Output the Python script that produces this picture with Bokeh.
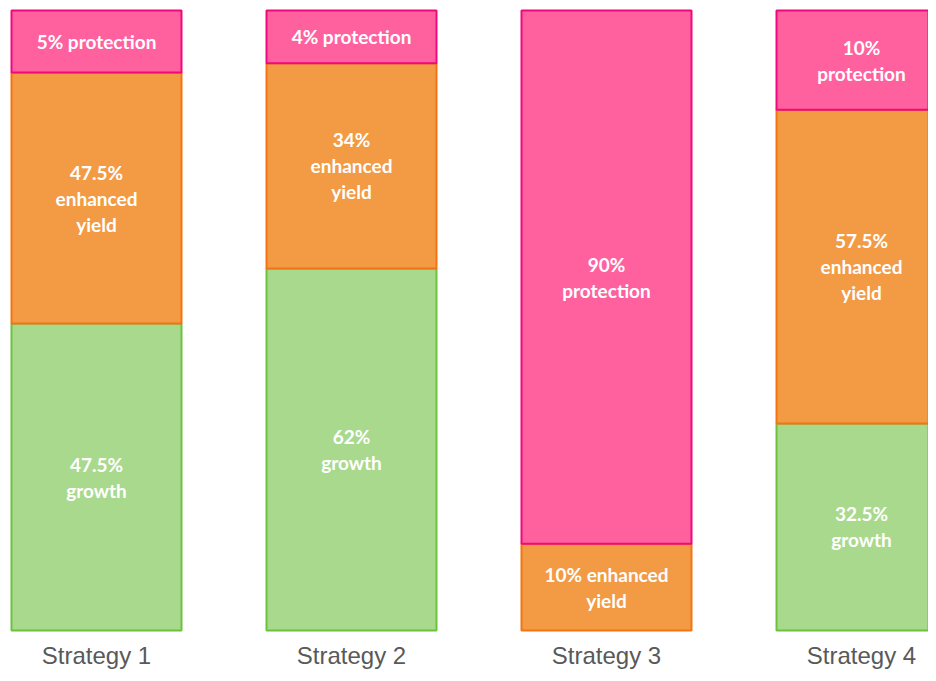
import numpy as np
from bokeh.plotting import figure
from bokeh.models import ColumnDataSource
from bokeh.core.properties import value
from bokeh.embed import file_html
from bokeh.resources import INLINE

strategies = ["Strategy 1", "Strategy 2", "Strategy 3", "Strategy 4"]
growth = [49.5, 58.4, 0.0, 33.4]
enhanced_yield = [40.5, 33.1, 14.0, 50.6]
protection = [10.0, 8.5, 86.0, 16.0]

growth_labels = ["47.5%\ngrowth", "62%\ngrowth", "", "32.5%\ngrowth"]
yield_labels = ["47.5%\nenhanced\nyield", "34%\nenhanced\nyield", "10% enhanced\nyield", "57.5%\nenhanced\nyield"]
protection_labels = ["5% protection", "4% protection", "90%\nprotection", "10%\nprotection"]

series = [
    (growth, growth_labels, "#A9D98D", "#6CC13F"),
    (enhanced_yield, yield_labels, "#F39A45", "#F47414"),
    (protection, protection_labels, "#FF619F", "#F0087E"),
]

W, H = 928, 673
PX = 6.2  # pixels per percent
xs = np.arange(len(strategies))
x0 = -96 / 255.0
p = figure(width=W, height=H, output_backend="svg", toolbar_location=None,
           x_range=(x0, x0 + W / 255.0), y_range=(-(H - 630) / PX, 100 + 10 / PX),
           min_border_left=0, min_border_right=0, min_border_top=0, min_border_bottom=0)
p.outline_line_color = None
p.background_fill_color = "white"
p.border_fill_color = "white"
p.xaxis.visible = False
p.yaxis.visible = False
p.xgrid.grid_line_color = None
p.ygrid.grid_line_color = None

bottom = np.zeros(len(strategies))
for vals, labels, fill, line in series:
    vals = np.array(vals)
    top = bottom + vals
    mask = vals > 0
    src = ColumnDataSource(dict(x=xs[mask], bottom=bottom[mask], top=top[mask],
                                mid=((bottom + top) / 2)[mask],
                                label=[l for l, m in zip(labels, mask) if m]))
    p.vbar(x="x", bottom="bottom", top="top", width=170 / 255.0, source=src,
           fill_color=fill, line_color=line, line_width=2)
    p.text(x="x", y="mid", text="label", source=src, text_align="center",
           text_baseline="middle", text_color="white", text_font=value("Lato"),
           text_font_style="bold", text_font_size="19px", text_line_height=1.13)
    bottom = top

cat_src = ColumnDataSource(dict(x=xs, y=np.full(len(xs), -25 / PX), label=strategies))
p.text(x="x", y="y", text="label", source=cat_src, text_align="center",
       text_baseline="middle", text_color="#595959",
       text_font=value("Liberation Sans"), text_font_size="24px")

open("out.html", "w").write(file_html(p, INLINE))
